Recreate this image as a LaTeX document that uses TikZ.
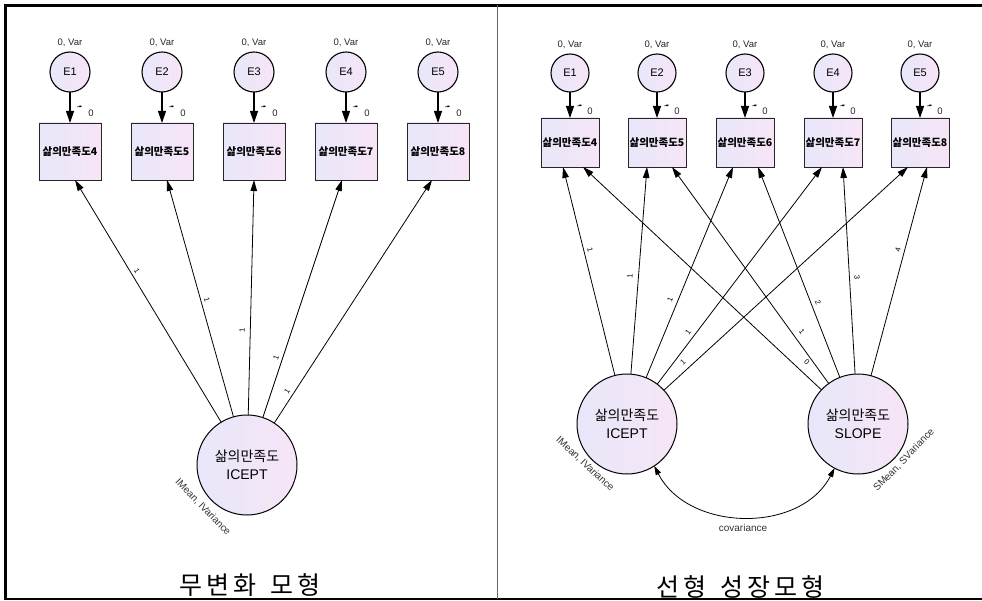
\documentclass[tikz,border=0pt]{standalone}
\usepackage{fontspec}
\setmainfont{Liberation Sans}
\newfontfamily\kr{Noto Sans CJK KR}
\usetikzlibrary{arrows.meta,calc}
\definecolor{lavL}{RGB}{232,231,249}
\definecolor{lavR}{RGB}{246,229,246}
\begin{document}
\begin{tikzpicture}[x=1pt,y=-1pt,
  every node/.style={inner sep=0pt,outer sep=0pt},
  err/.style={circle,draw,line width=1.1pt,left color=lavL,right color=lavR,font=\fontsize{11}{11}\selectfont},
  obs/.style={draw=black!85,line width=0.9pt,left color=lavL,right color=lavR,font=\kr\bfseries\fontsize{10.5}{11}\selectfont},
  lat/.style={circle,draw,line width=1pt,minimum size=100pt,left color=lavL,right color=lavR,align=center,font=\fontsize{14}{18}\selectfont},
  smalltxt/.style={font=\fontsize{9.5}{10}\selectfont,text=black!85},
  vartxt/.style={font=\fontsize{10}{10}\selectfont,text=black!80},
  elab/.style={font=\fontsize{7.5}{8}\selectfont},
  errpath/.style={line width=1.1pt,-{Triangle[length=12pt,width=8pt]}},
  regpath/.style={line width=0.8pt,-{Triangle[length=11pt,width=6.5pt]}},
  tinyarrow/.style={line width=0.5pt,-{Stealth[length=2.5pt,width=2.2pt]}},
  caption/.style={font=\kr\fontsize{25}{25}\selectfont}
]
\useasboundingbox (0,0) rectangle (982,601);
% frame
\draw[line width=2.5pt] (982,5.5) -- (5.5,5.5) -- (5.5,599) -- (982,599);
\draw[black!60,line width=1pt] (497,5.5) -- (497,599);

% ---------- left panel ----------
\foreach \i/\x/\n in {1/70/4,2/162/5,3/254/6,4/346/7,5/438/8}{
  \node[err,minimum size=40pt] (eL\i) at (\x,72) {E\i};
  \node[smalltxt] at (\x,43) {0, Var};
  \node[obs,minimum width=62pt,minimum height=57pt] (bL\i) at (\x,151.5) {삶의만족도\n};
  \draw[errpath] (eL\i) -- (bL\i);
  \draw[tinyarrow] ([xshift=7pt,yshift=16pt]bL\i.north) -- ([xshift=12pt,yshift=17pt]bL\i.north);
  \node[smalltxt] at ([xshift=21pt,yshift=10pt]bL\i.north) {0};
}
\node[lat] (icL) at (247,465) {{\kr 삶의만족도}\\ICEPT};
\draw[regpath] (icL) -- ([xshift=5pt]bL1.south);
\draw[regpath] (icL) -- ([xshift=5pt]bL2.south);
\draw[regpath] (icL) -- ([xshift=0pt]bL3.south);
\draw[regpath] (icL) -- ([xshift=-4pt]bL4.south);
\draw[regpath] (icL) -- ([xshift=-6pt]bL5.south);
\node[elab,rotate=-59] at (137,271) {1};
\node[elab,rotate=-74] at (207,300) {1};
\node[elab,rotate=89] at (242,330) {1};
\node[elab,rotate=72] at (276,358) {1};
\node[elab,rotate=57] at (287,391) {1};
\node[vartxt,rotate=-46] at (203,507) {IMean, IVariance};
\node[caption] at (250,585) {무\hspace{4pt}변\hspace{4pt}화\hspace{14pt}모\hspace{4pt}형};

% ---------- right panel ----------
\foreach \i/\x/\n in {1/570/4,2/657/5,3/745/6,4/833/7,5/920/8}{
  \node[err,minimum size=38pt] (eR\i) at (\x,73) {E\i};
  \node[smalltxt] at (\x,45) {0, Var};
  \node[obs,minimum width=58pt,minimum height=49pt] (bR\i) at (\x,142.5) {삶의만족도\n};
  \draw[errpath] (eR\i) -- (bR\i);
  \draw[tinyarrow] ([xshift=7pt,yshift=12pt]bR\i.north) -- ([xshift=12pt,yshift=13pt]bR\i.north);
  \node[smalltxt] at ([xshift=20pt,yshift=7pt]bR\i.north) {0};
}
\node[lat] (icR) at (627,424) {{\kr 삶의만족도}\\ICEPT};
\node[lat] (slR) at (858,424) {{\kr 삶의만족도}\\SLOPE};
\draw[regpath] (icR) -- ([xshift=-7pt]bR1.south);
\draw[regpath] (icR) -- ([xshift=-10pt]bR2.south);
\draw[regpath] (icR) -- ([xshift=-12pt]bR3.south);
\draw[regpath] (icR) -- ([xshift=-11pt]bR4.south);
\draw[regpath] (icR) -- ([xshift=-12pt]bR5.south);
\draw[regpath] (slR) -- ([xshift=13pt]bR1.south);
\draw[regpath] (slR) -- ([xshift=15pt]bR2.south);
\draw[regpath] (slR) -- ([xshift=13pt]bR3.south);
\draw[regpath] (slR) -- ([xshift=10pt]bR4.south);
\draw[regpath] (slR) -- ([xshift=7pt]bR5.south);
\node[elab,rotate=-76] at (590,250) {1};
\node[elab,rotate=85] at (630,276) {1};
\node[elab,rotate=68] at (670,300) {1};
\node[elab,rotate=53] at (688,332) {1};
\node[elab,rotate=42] at (683,362) {1};
\node[elab,rotate=75] at (898,250) {4};
\node[elab,rotate=-87] at (857,277) {3};
\node[elab,rotate=-69] at (818,303) {2};
\node[elab,rotate=-54] at (802,332) {1};
\node[elab,rotate=-43] at (807,362) {0};
\draw[line width=0.8pt,{Triangle[length=9pt,width=5.5pt]}-{Triangle[length=9pt,width=5.5pt]}]
  (icR.-57) .. controls +(34,66) and +(-34,66) .. (slR.-118);
\node[vartxt] at (743,528) {covariance};
\node[vartxt,rotate=-43] at (585,464) {IMean, IVariance};
\node[vartxt,rotate=46] at (904,460) {SMean, SVariance};
\node[caption] at (740,587) {선\hspace{4pt}형\hspace{14pt}성\hspace{4pt}장\hspace{4pt}모\hspace{4pt}형};
\end{tikzpicture}
\end{document}
